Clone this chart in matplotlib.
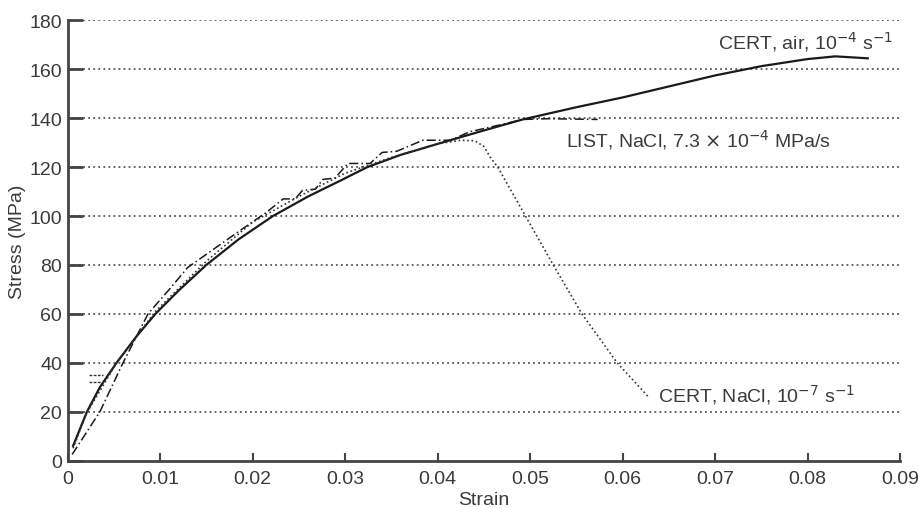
import numpy as np
import matplotlib.pyplot as plt

plt.rcParams['font.family'] = ['Liberation Sans', 'DejaVu Sans']

# CERT in air, 10^-4 s^-1 (solid)
air_strain = [0.0006, 0.0021, 0.0035, 0.0053, 0.0075, 0.0095, 0.012, 0.015, 0.0185,
              0.0222, 0.026, 0.0295, 0.0324, 0.036, 0.040, 0.045, 0.0492, 0.055,
              0.060, 0.065, 0.070, 0.075, 0.080, 0.083, 0.0865]
air_stress = [6, 20, 30, 40, 51, 60, 69.5, 80, 90.5,
              100, 108, 114.5, 120, 125, 129.5, 135, 139.5, 144.5,
              148.5, 153, 157.5, 161.3, 164.2, 165.3, 164.5]

# LIST in NaCl, 7.3e-4 MPa/s (dash-dot, stepped)
list_strain = [0.0005, 0.0035, 0.006, 0.0087, 0.011, 0.013, 0.016, 0.019, 0.0215,
               0.0233, 0.0246, 0.0254, 0.0268, 0.0276, 0.0289, 0.0303, 0.0327,
               0.0340, 0.0356, 0.0384, 0.0414, 0.0435, 0.047, 0.0492, 0.052, 0.0573]
list_stress = [2.5, 20, 40, 60, 70, 79, 87, 95, 101.5,
               107, 107, 110.5, 111, 115, 115.5, 121.5, 121.5,
               126, 126.5, 131, 131, 134.5, 137.5, 139.5, 139.8, 139.5]

# CERT in NaCl, 10^-7 s^-1 (dotted)
nacl_strain = [0.0006, 0.002, 0.0053, 0.0095, 0.015, 0.020, 0.025, 0.030, 0.035,
               0.040, 0.0425, 0.0440, 0.0450, 0.0457, 0.0465, 0.0495, 0.0525,
               0.0556, 0.0594, 0.0628]
nacl_stress = [5, 19, 40, 61, 81.5, 97.5, 108, 117.5, 124,
               129.5, 131, 130.8, 128.5, 124, 120, 100, 80,
               60, 40, 26]

# two short stray dotted marks near the origin
stray_strain = [0.0023, 0.0038]
stray_stress_a = [35, 35]
stray_stress_b = [32, 32]

xticks = [0, 0.01, 0.02, 0.03, 0.04, 0.05, 0.06, 0.07, 0.08, 0.09]
xticklabels = ['0', '0.01', '0.02', '0.03', '0.04', '0.05', '0.06', '0.07', '0.08', '0.09']
yticks = list(range(0, 181, 20))

ink = '#1a1a1a'
txt = '#3a3a3a'
fs = 14

fig = plt.figure(figsize=(9.19, 5.10), dpi=100)
ax = fig.add_axes([0.0735, 0.095, 0.906, 0.863])

for y in yticks[1:]:
    ax.plot([0, 0.09], [y, y], color='#555555', lw=1.3, ls=(0, (1, 1.8)), zorder=1)

ax.plot(air_strain, air_stress, color=ink, lw=1.6, zorder=3)
ax.plot(list_strain, list_stress, color=ink, lw=1.1, ls=(0, (6, 2, 1, 2)), zorder=3)
ax.plot(nacl_strain, nacl_stress, color='#333333', lw=1.2, ls=(0, (1, 1.6)), zorder=3)
ax.plot(stray_strain, stray_stress_a, color='#333333', lw=1.0, ls=(0, (2, 1)), zorder=3)
ax.plot(stray_strain, stray_stress_b, color='#333333', lw=1.0, ls=(0, (2, 1)), zorder=3)

ax.text(0.0892, 171.6, r'CERT, air, 10$^{-4}$ s$^{-1}$', ha='right', va='center',
        fontsize=fs, color=txt)
ax.text(0.0539, 131.5, r'LIST, NaCl, 7.3 $\times$ 10$^{-4}$ MPa/s', ha='left', va='center',
        fontsize=fs, color=txt)
ax.text(0.0638, 27, r'CERT, NaCl, 10$^{-7}$ s$^{-1}$', ha='left', va='center',
        fontsize=fs, color=txt)

ax.set_xlim(0, 0.09)
ax.set_ylim(0, 180)
ax.set_xticks(xticks)
ax.set_xticklabels(xticklabels)
ax.set_yticks(yticks)
ax.tick_params(axis='y', direction='in', length=11, width=2, colors='#444444',
               labelsize=fs, labelcolor=txt, pad=4)
ax.tick_params(axis='x', direction='in', length=6, width=1.5, colors='#444444',
               labelsize=fs, labelcolor=txt, pad=7)

for s in ['top', 'right']:
    ax.spines[s].set_visible(False)
for s in ['left', 'bottom']:
    ax.spines[s].set_linewidth(2)
    ax.spines[s].set_color('#444444')

ax.set_xlabel('Strain', fontsize=fs, color=txt, labelpad=3)
ax.set_ylabel('Stress (MPa)', fontsize=fs, color=txt, labelpad=2)

fig.savefig('out.png', dpi=100)
